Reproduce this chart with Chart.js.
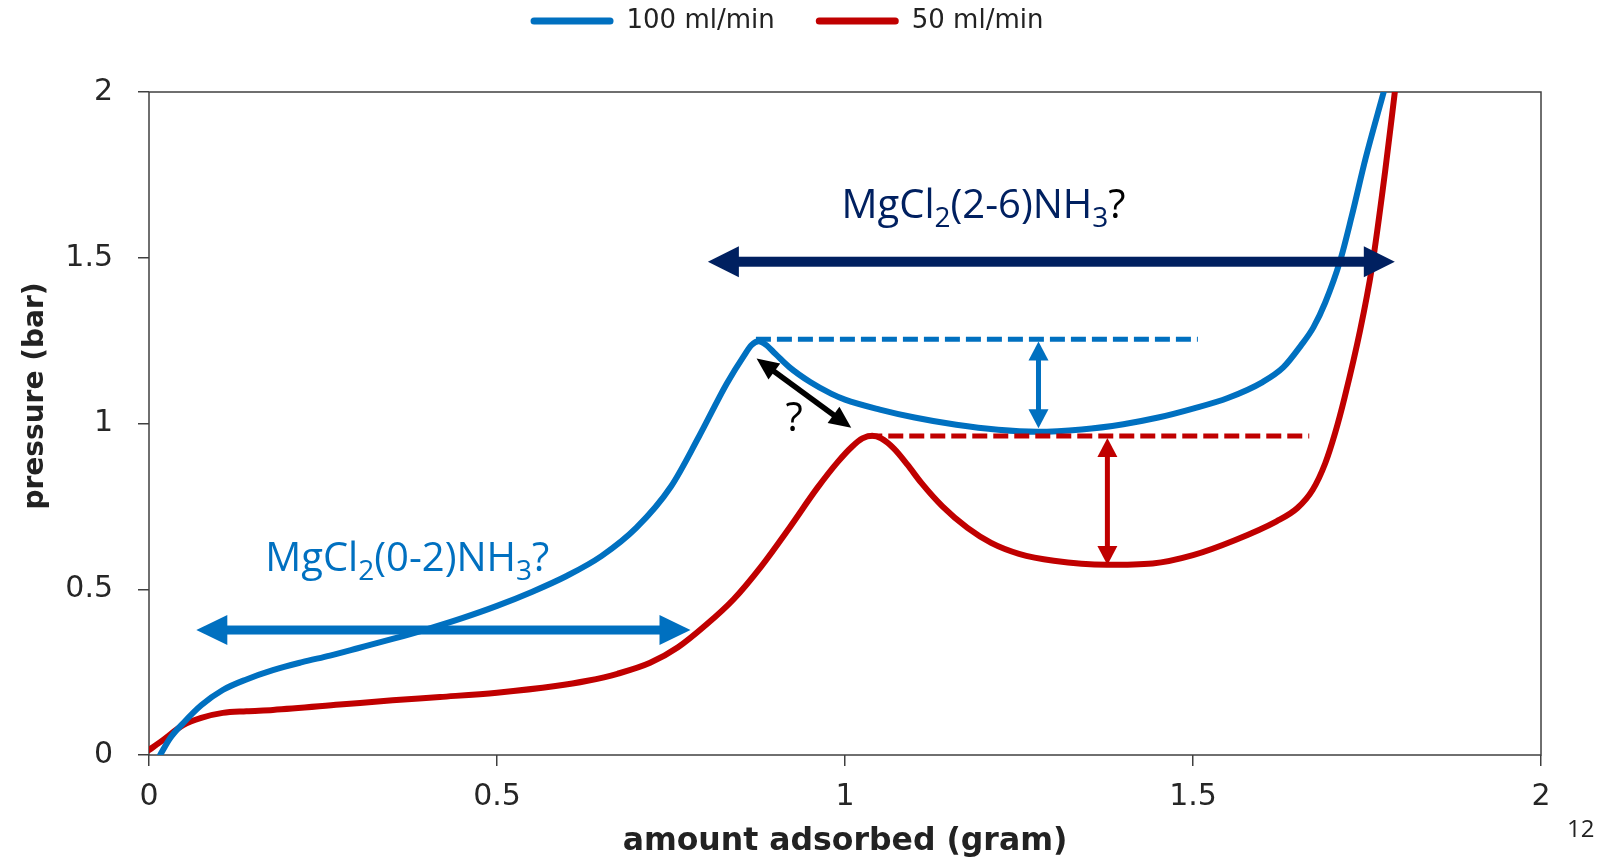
<!DOCTYPE html>
<html>
<head>
<meta charset="utf-8">
<script src="https://cdn.jsdelivr.net/npm/chart.js@4.4.1/dist/chart.umd.min.js"></script>
<style>
  html, body { margin: 0; padding: 0; background: #fff; }
  #wrap { position: relative; width: 1614px; height: 861px; }
  #pageNo { position: absolute; left: 1567px; top: 811px; font: 24px "Open Sans", sans-serif; color: #222; }
</style>
</head>
<body>
<div id="wrap">
  <canvas id="chart" width="1614" height="861"></canvas>
  <span id="pageNo">12</span>
</div>
<script>
// pressure vs amount adsorbed, two flow rates
const seriesNames = ["100 ml/min", "50 ml/min"]
const amount100 = [0.016, 0.03, 0.049, 0.075, 0.106, 0.14, 0.178, 0.22, 0.26, 0.3, 0.35, 0.4, 0.45, 0.5, 0.55, 0.6, 0.65, 0.7, 0.75, 0.79, 0.83, 0.855, 0.866, 0.876, 0.886, 0.9, 0.92, 0.95, 0.98, 1.0, 1.05, 1.1, 1.16, 1.22, 1.276, 1.34, 1.4, 1.45, 1.5, 1.55, 1.6, 1.63, 1.655, 1.673, 1.69, 1.711, 1.728, 1.748, 1.774]
const pressure100 = [0, 0.05, 0.096, 0.15, 0.196, 0.228, 0.256, 0.28, 0.3, 0.322, 0.35, 0.38, 0.413, 0.45, 0.492, 0.54, 0.6, 0.685, 0.81, 0.96, 1.12, 1.205, 1.237, 1.248, 1.238, 1.21, 1.17, 1.125, 1.09, 1.072, 1.042, 1.018, 0.996, 0.981, 0.975, 0.982, 0.998, 1.018, 1.045, 1.077, 1.125, 1.17, 1.235, 1.29, 1.365, 1.488, 1.625, 1.8, 2.0]
const amount50 = [0, 0.02, 0.049, 0.075, 0.106, 0.14, 0.178, 0.274, 0.35, 0.418, 0.5, 0.584, 0.63, 0.673, 0.72, 0.76, 0.8, 0.84, 0.88, 0.92, 0.96, 0.99, 1.01, 1.025, 1.039, 1.052, 1.07, 1.09, 1.11, 1.14, 1.176, 1.21, 1.25, 1.3, 1.376, 1.442, 1.5, 1.56, 1.62, 1.65, 1.672, 1.69, 1.704, 1.718, 1.74, 1.757, 1.776, 1.79]
const pressure50 = [0.015, 0.045, 0.09, 0.112, 0.127, 0.132, 0.136, 0.152, 0.165, 0.175, 0.188, 0.208, 0.224, 0.245, 0.278, 0.325, 0.392, 0.47, 0.57, 0.685, 0.805, 0.885, 0.93, 0.955, 0.963, 0.955, 0.925, 0.875, 0.82, 0.75, 0.685, 0.64, 0.607, 0.586, 0.574, 0.578, 0.603, 0.648, 0.705, 0.745, 0.8, 0.88, 0.97, 1.08, 1.28, 1.47, 1.76, 2.0]
const xTicks = [0, 0.5, 1, 1.5, 2]
const yTicks = [0, 0.5, 1, 1.5, 2]

// peak levels carried to the right: [x from, x to, pressure]
const peakLevel100 = [0.872, 1.507, 1.254]
const peakLevel50 = [1.032, 1.667, 0.962]
// double arrows: [x1, y1, x2, y2]
const rangeLow = [0.068, 0.377, 0.778, 0.377]
const rangeHigh = [0.803, 1.488, 1.79, 1.488]
const dip100 = [1.278, 1.247, 1.278, 0.986]
const dip50 = [1.377, 0.956, 1.377, 0.573]
const peakShift = [0.873, 1.196, 1.009, 0.987]
// text anchors (left end of baseline): [x, y]
const lowLabelAt = [0.167, 0.555]
const highLabelAt = [0.995, 1.62]
const shiftMarkAt = [0.927, 0.977]

const BLUE = "#0070C0", RED = "#C00000", NAVY = "#002060"
const tickFont = { family: "DejaVu Sans", size: 30 }
const noteFont = "\"Open Sans\", sans-serif"

function arrow(ctx, x1, y1, x2, y2, color, shaft, headLen, headW) {
    let len = Math.hypot(x2 - x1, y2 - y1)
    ctx.save()
    ctx.translate(x1, y1)
    ctx.rotate(Math.atan2(y2 - y1, x2 - x1))
    ctx.fillStyle = color
    ctx.fillRect(headLen - 1, -shaft / 2, len - 2 * headLen + 2, shaft)
    ctx.beginPath()
    ctx.moveTo(0, 0); ctx.lineTo(headLen, -headW / 2); ctx.lineTo(headLen, headW / 2)
    ctx.closePath(); ctx.fill()
    ctx.beginPath()
    ctx.moveTo(len, 0); ctx.lineTo(len - headLen, -headW / 2); ctx.lineTo(len - headLen, headW / 2)
    ctx.closePath(); ctx.fill()
    ctx.restore()
}

function formula(ctx, x, y, parts) {
    parts.forEach(p => {
        ctx.font = (p.sub ? "28px " : "40px ") + noteFont
        ctx.fillStyle = p.color
        ctx.fillText(p.t, x, y + (p.sub ? 9 : 0))
        x += ctx.measureText(p.t).width
    })
}

const notes = {
    id: "notes",
    afterInit(chart) {
        // leave room between legend and plot
        const legend = chart.legend
        const fit = legend.fit
        legend.fit = function () { fit.call(this); this.height += 48 }
    },
    beforeDatasetsDraw(chart) {
        const { ctx, chartArea: a } = chart
        ctx.save()
        ctx.strokeStyle = "#404040"
        ctx.lineWidth = 1.5
        ctx.strokeRect(a.left, a.top, a.right - a.left, a.bottom - a.top)
        ctx.restore()
    },
    afterDatasetsDraw(chart) {
        const { ctx } = chart
        const sx = v => chart.scales.x.getPixelForValue(v)
        const sy = v => chart.scales.y.getPixelForValue(v)

        ctx.save()
        ctx.lineWidth = 5
        ctx.setLineDash([15, 6])
        ;[[peakLevel100, BLUE], [peakLevel50, RED]].forEach(([l, c]) => {
            ctx.strokeStyle = c
            ctx.beginPath()
            ctx.moveTo(sx(l[0]), sy(l[2]))
            ctx.lineTo(sx(l[1]), sy(l[2]))
            ctx.stroke()
        })
        ctx.restore()

        const draw = (a, c, s, hl, hw) => arrow(ctx, sx(a[0]), sy(a[1]), sx(a[2]), sy(a[3]), c, s, hl, hw)
        draw(rangeLow, BLUE, 9, 31, 30)
        draw(rangeHigh, NAVY, 10, 31, 31)
        draw(dip100, BLUE, 5, 19, 20)
        draw(dip50, RED, 5, 19, 20)
        draw(peakShift, "#000", 5.5, 22, 20)

        ctx.save()
        ctx.textBaseline = "alphabetic"
        ctx.textAlign = "left"
        formula(ctx, sx(lowLabelAt[0]), sy(lowLabelAt[1]), [
            { t: "MgCl", color: BLUE }, { t: "2", sub: true, color: BLUE },
            { t: "(0-2)NH", color: BLUE }, { t: "3", sub: true, color: BLUE }, { t: "?", color: BLUE }])
        formula(ctx, sx(highLabelAt[0]), sy(highLabelAt[1]), [
            { t: "MgCl", color: NAVY }, { t: "2", sub: true, color: NAVY },
            { t: "(2-6)NH", color: NAVY }, { t: "3", sub: true, color: NAVY }, { t: "?", color: "#000" }])
        ctx.textAlign = "center"
        ctx.font = "40px " + noteFont
        ctx.fillStyle = "#000"
        ctx.fillText("?", sx(shiftMarkAt[0]), sy(shiftMarkAt[1]))
        ctx.restore()
    },
    afterDraw(chart) {
        const { ctx } = chart
        ctx.save()
        ctx.translate(36, 396)
        ctx.rotate(-Math.PI / 2)
        ctx.font = "bold 28px \"DejaVu Sans\""
        ctx.fillStyle = "#222"
        ctx.textAlign = "center"
        ctx.textBaseline = "middle"
        ctx.fillText("pressure (bar)", 0, 0)
        ctx.restore()
    }
}

const toPoints = (xs, ys) => xs.map((x, i) => ({ x: x, y: ys[i] }))

new Chart("chart", {
    type: "line",
    data: {
        datasets: [
            { label: seriesNames[0], data: toPoints(amount100, pressure100), borderColor: BLUE, backgroundColor: BLUE },
            { label: seriesNames[1], data: toPoints(amount50, pressure50), borderColor: RED, backgroundColor: RED }
        ]
    },
    options: {
        responsive: false,
        animation: false,
        parsing: false,
        datasets: {
            line: { borderWidth: 6, pointRadius: 0, fill: false, cubicInterpolationMode: "monotone", borderCapStyle: "round", borderJoinStyle: "round" }
        },
        layout: { padding: { top: -33, left: 33, right: 73, bottom: 0 } },
        plugins: {
            tooltip: { enabled: false },
            legend: {
                position: "top",
                labels: {
                    font: { family: "DejaVu Sans", size: 26 },
                    color: "#222",
                    boxWidth: 83,
                    boxHeight: 7,
                    padding: 41,
                    generateLabels: chart => Chart.defaults.plugins.legend.labels.generateLabels(chart)
                        .map(item => Object.assign(item, { lineWidth: 0, borderRadius: 3.5 }))
                }
            }
        },
        scales: {
            x: {
                type: "linear",
                min: 0, max: 2,
                afterBuildTicks: s => { s.ticks = xTicks.map(v => ({ value: v })) },
                afterFit: s => { s.height = 106 },
                ticks: { font: tickFont, color: "#262626", padding: 13, maxRotation: 0, callback: v => String(v) },
                grid: { drawOnChartArea: false, tickLength: 11, color: "#404040", lineWidth: 1.5 },
                border: { display: false },
                title: {
                    display: true,
                    text: "amount adsorbed (gram)",
                    color: "#222",
                    font: { family: "DejaVu Sans", size: 31.5, weight: "bold" },
                    padding: { top: 0, bottom: 0 }
                }
            },
            y: {
                min: 0, max: 2,
                afterBuildTicks: s => { s.ticks = yTicks.map(v => ({ value: v })) },
                afterFit: s => { s.width = 116 },
                ticks: { font: tickFont, color: "#262626", padding: 25, callback: v => String(v) },
                grid: { drawOnChartArea: false, tickLength: 11, color: "#404040", lineWidth: 1.5 },
                border: { display: false }
            }
        }
    },
    plugins: [notes]
})
</script>
</body>
</html>
